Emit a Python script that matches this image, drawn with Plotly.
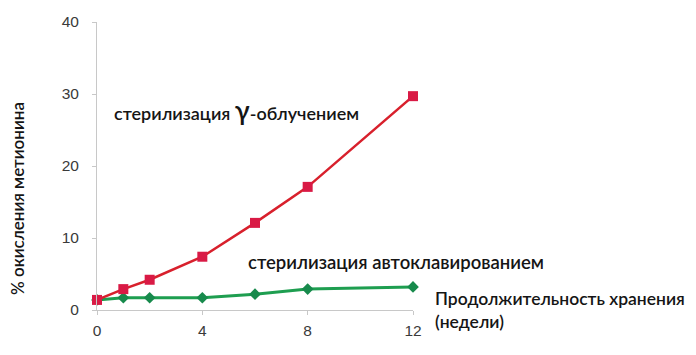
import plotly.graph_objects as go

weeks = [0, 1, 2, 4, 6, 8, 12]
gamma_vals = [1.4, 2.9, 4.2, 7.4, 12.1, 17.1, 29.7]
autoclave_vals = [1.4, 1.7, 1.7, 1.7, 2.2, 2.9, 3.2]
x_ticks = [0, 4, 8, 12]
y_ticks = [0, 10, 20, 30, 40]

fig = go.Figure()
fig.add_trace(go.Scatter(
    x=weeks, y=autoclave_vals, mode="lines+markers",
    line=dict(color="#1e9e50", width=3),
    marker=dict(symbol="diamond", size=9, color="#178a4c"),
    cliponaxis=False, showlegend=False))
fig.add_trace(go.Scatter(
    x=weeks, y=gamma_vals, mode="lines+markers",
    line=dict(color="#d8202c", width=2.5),
    marker=dict(symbol="square", size=10, color="#d91a45"),
    cliponaxis=False, showlegend=False))

# page has an 8px body offset; work in screen coordinates minus offset
OFF = 8
W, H = 696, 355
l, r, t, b = 97 - OFF, W - (413 - OFF), 22 - OFF, H - (310 - OFF)
pw, ph = W - l - r, H - t - b

def px(x):
    return (x - OFF - l) / pw

def py(y):
    return (H - b - (y - OFF)) / ph

TXT = dict(family="Lato", color="#151515", weight=600)

fig.update_layout(
    width=W, height=H,
    margin=dict(l=l, r=r, t=t, b=b, autoexpand=False),
    plot_bgcolor="white", paper_bgcolor="white",
    font=dict(family="Liberation Sans, Arial", color="#333"),
    xaxis=dict(range=[0, 12], tickvals=x_ticks, showgrid=False, zeroline=False,
               showline=True, linecolor="#c8c8c8", linewidth=1,
               ticks="outside", ticklen=4, tickcolor="#c8c8c8",
               ticklabelstandoff=2, automargin=False,
               tickfont=dict(size=15.5, color="#3a3a3a")),
    yaxis=dict(range=[0, 40], tickvals=y_ticks, showgrid=False, zeroline=False,
               showline=True, linecolor="#c8c8c8", linewidth=1,
               ticks="outside", ticklen=4, tickcolor="#c8c8c8",
               ticklabelstandoff=10, automargin=False,
               tickfont=dict(size=15.5, color="#3a3a3a")),
    annotations=[
        dict(text="стерилизация <span style='font-size:27px'>γ</span>-облучением",
             x=px(112), y=py(109), xref="paper", yref="paper", showarrow=False,
             xanchor="left", yanchor="middle",
             font=dict(size=18, **TXT)),
        dict(text="стерилизация автоклавированием",
             x=px(246), y=py(262), xref="paper", yref="paper", showarrow=False,
             xanchor="left", yanchor="middle",
             font=dict(size=18.5, **TXT)),
        dict(text="Продолжительность хранения<br>(недели)",
             x=px(433), y=py(310), xref="paper", yref="paper", showarrow=False,
             xanchor="left", yanchor="middle",
             align="left", font=dict(size=17.5, **TXT)),
        dict(text="% окисления метионина",
             x=px(18), y=py(199), xref="paper", yref="paper", showarrow=False,
             textangle=-90, xanchor="center", yanchor="middle",
             font=dict(size=17, **TXT)),
    ],
)

fig.write_html("out.html")
